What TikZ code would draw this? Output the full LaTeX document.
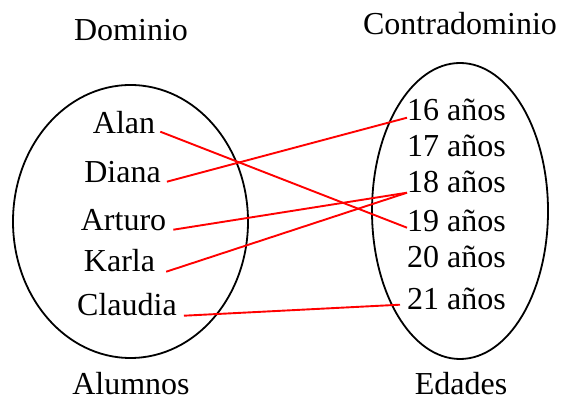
\documentclass[tikz,border=0pt]{standalone}
\usepackage{fontspec}
\setmainfont{Liberation Serif}
\begin{document}
\begin{tikzpicture}[x=1pt,y=1pt,
  lbl/.style={inner sep=0pt,font=\fontsize{32}{38}\selectfont},
  oval/.style={draw=black,line width=1.8pt},
  link/.style={draw=red,line width=1.9pt}]
\useasboundingbox (0,0) rectangle (562,401);
% titles
\node[lbl,anchor=base] (dom) at (131,401-41) {Dominio};
\node[lbl,anchor=base] (cod) at (460,401-35) {Contradominio};
\node[lbl,anchor=base] (alu) at (131,401-395) {Alumnos};
\node[lbl,anchor=base] (eda) at (461,401-395) {Edades};
% ellipses
\draw[oval] (130.5,401-221.5) ellipse [x radius=117.5, y radius=136.5];
\draw[oval] (460,401-211) ellipse [x radius=88, y radius=148];
% domain
\node[lbl,anchor=base] (alan) at (124,401-134) {Alan};
\node[lbl,anchor=base] (diana) at (122.5,401-183) {Diana};
\node[lbl,anchor=base] (arturo) at (123.5,401-231) {Arturo};
\node[lbl,anchor=base] (karla) at (119.5,401-272) {Karla};
\node[lbl,anchor=base] (claudia) at (127,401-316) {Claudia};
% codomain
\node[lbl,anchor=base west] (a16) at (407,401-121) {16 años};
\node[lbl,anchor=base west] (a17) at (407,401-157) {17 años};
\node[lbl,anchor=base west] (a18) at (407,401-193) {18 años};
\node[lbl,anchor=base west] (a19) at (407,401-232) {19 años};
\node[lbl,anchor=base west] (a20) at (407,401-268) {20 años};
\node[lbl,anchor=base west] (a21) at (407,401-310) {21 años};
% links
\draw[link] ([xshift=5pt]alan.mid east) -- ([yshift=2pt]a19.mid west);
\draw[link] ([xshift=6pt,yshift=-1pt]diana.mid east) -- ([yshift=1pt]a16.mid west);
\draw[link] ([xshift=7pt,yshift=-1pt]arturo.mid east) -- ([yshift=-2pt]a18.mid west);
\draw[link] ([xshift=11pt,yshift=-2pt]karla.mid east) -- ([yshift=-2pt]a18.mid west);
\draw[link] ([xshift=7pt,yshift=-2pt]claudia.mid east) -- ([xshift=-7pt,yshift=3pt]a21.mid west);
\end{tikzpicture}
\end{document}
